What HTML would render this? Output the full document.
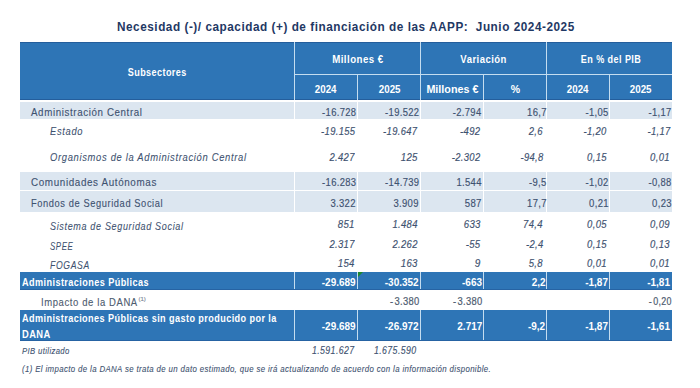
<!DOCTYPE html>
<html><head><meta charset="utf-8"><style>
html,body{margin:0;padding:0;background:#FFFFFF;width:700px;height:388px;overflow:hidden;position:relative;font-family:"Liberation Sans",sans-serif;}
</style></head><body>
<div style="position:absolute;left:117.3px;top:19.76px;font-size:13.4px;line-height:13.4px;font-weight:bold;font-style:normal;color:#1F3864;white-space:nowrap;letter-spacing:0.6px;transform:scaleX(0.8793);transform-origin:left center">Necesidad (-)/ capacidad (+) de financiación de las AAPP:&nbsp; Junio 2024-2025</div>
<div style="position:absolute;left:20px;top:42px;width:652px;height:58px;background:#2E75B6"></div>
<div style="position:absolute;left:20px;top:42px;width:652px;height:1px;background:#245E9C"></div>
<div style="position:absolute;left:20px;top:99px;width:652px;height:1px;background:#245E9C"></div>
<div style="position:absolute;left:294px;top:42px;width:1px;height:58px;background:#C4DDF0"></div>
<div style="position:absolute;left:420px;top:42px;width:1px;height:58px;background:#C4DDF0"></div>
<div style="position:absolute;left:546px;top:42px;width:1px;height:58px;background:#C4DDF0"></div>
<div style="position:absolute;left:294px;top:74px;width:378px;height:1px;background:#C4DDF0"></div>
<div style="position:absolute;left:357px;top:74px;width:1px;height:26px;background:#C4DDF0"></div>
<div style="position:absolute;left:483px;top:74px;width:1px;height:26px;background:#C4DDF0"></div>
<div style="position:absolute;left:609px;top:74px;width:1px;height:26px;background:#C4DDF0"></div>
<div style="position:absolute;left:123.04px;width:68.53px;top:66.81px;font-size:10.5px;line-height:10.5px;font-weight:bold;font-style:normal;color:#FFFFFF;white-space:nowrap;letter-spacing:0.5px;transform:scaleX(0.8614);transform-origin:34.01px center">Subsectores</div>
<div style="position:absolute;left:330.42px;width:55.76px;top:54.31px;font-size:10.5px;line-height:10.5px;font-weight:bold;font-style:normal;color:#FFFFFF;white-space:nowrap;letter-spacing:0.5px;transform:scaleX(0.9229);transform-origin:27.63px center">Millones €</div>
<div style="position:absolute;left:457.70px;width:51.19px;top:54.31px;font-size:10.5px;line-height:10.5px;font-weight:bold;font-style:normal;color:#FFFFFF;white-space:nowrap;letter-spacing:0.5px;transform:scaleX(0.9075);transform-origin:25.35px center">Variación</div>
<div style="position:absolute;left:575.81px;width:70.18px;top:54.31px;font-size:10.5px;line-height:10.5px;font-weight:bold;font-style:normal;color:#FFFFFF;white-space:nowrap;letter-spacing:0.5px;transform:scaleX(0.8611);transform-origin:34.84px center">En % del PIB</div>
<div style="position:absolute;left:314.32px;width:23.36px;top:84.11px;font-size:10.5px;line-height:10.5px;font-weight:bold;font-style:normal;color:#FFFFFF;white-space:nowrap;transform:scaleX(0.9290);transform-origin:11.68px center">2024</div>
<div style="position:absolute;left:377.82px;width:23.36px;top:84.11px;font-size:10.5px;line-height:10.5px;font-weight:bold;font-style:normal;color:#FFFFFF;white-space:nowrap;transform:scaleX(0.9290);transform-origin:11.68px center">2025</div>
<div style="position:absolute;left:427.12px;width:50.76px;top:84.11px;font-size:10.5px;line-height:10.5px;font-weight:bold;font-style:normal;color:#FFFFFF;white-space:nowrap;transform:scaleX(1.0244);transform-origin:25.38px center">Millones €</div>
<div style="position:absolute;left:510.83px;width:9.34px;top:84.11px;font-size:10.5px;line-height:10.5px;font-weight:bold;font-style:normal;color:#FFFFFF;white-space:nowrap;transform-origin:4.67px center">%</div>
<div style="position:absolute;left:566.32px;width:23.36px;top:84.11px;font-size:10.5px;line-height:10.5px;font-weight:bold;font-style:normal;color:#FFFFFF;white-space:nowrap;transform:scaleX(0.9290);transform-origin:11.68px center">2024</div>
<div style="position:absolute;left:628.82px;width:23.36px;top:84.11px;font-size:10.5px;line-height:10.5px;font-weight:bold;font-style:normal;color:#FFFFFF;white-space:nowrap;transform:scaleX(0.9290);transform-origin:11.68px center">2025</div>
<div style="position:absolute;left:20px;top:102px;width:652px;height:17px;background:#DCE6F0"></div>
<div style="position:absolute;left:294px;top:102px;width:1px;height:17px;background:#FFFFFF"></div>
<div style="position:absolute;left:357px;top:102px;width:1px;height:17px;background:#FFFFFF"></div>
<div style="position:absolute;left:420px;top:102px;width:1px;height:17px;background:#FFFFFF"></div>
<div style="position:absolute;left:483px;top:102px;width:1px;height:17px;background:#FFFFFF"></div>
<div style="position:absolute;left:546px;top:102px;width:1px;height:17px;background:#FFFFFF"></div>
<div style="position:absolute;left:609px;top:102px;width:1px;height:17px;background:#FFFFFF"></div>
<div style="position:absolute;left:31px;top:106.69px;font-size:11px;line-height:11px;font-weight:normal;font-style:normal;color:#3E5270;white-space:nowrap;letter-spacing:0.7px;-webkit-text-stroke:0.12px #3E5270;transform:scaleX(0.8855);transform-origin:left center">Administración Central</div>
<div style="position:absolute;right:343.87px;top:107.83px;font-size:10px;line-height:10px;font-weight:normal;font-style:normal;color:#3E5270;white-space:nowrap;letter-spacing:0.35px;-webkit-text-stroke:0.15px #3E5270;transform:scaleX(0.9417);transform-origin:right center">-16.728</div>
<div style="position:absolute;right:280.77px;top:107.83px;font-size:10px;line-height:10px;font-weight:normal;font-style:normal;color:#3E5270;white-space:nowrap;letter-spacing:0.35px;-webkit-text-stroke:0.15px #3E5270;transform:scaleX(0.9417);transform-origin:right center">-19.522</div>
<div style="position:absolute;right:218.27px;top:107.83px;font-size:10px;line-height:10px;font-weight:normal;font-style:normal;color:#3E5270;white-space:nowrap;letter-spacing:0.35px;-webkit-text-stroke:0.15px #3E5270;transform:scaleX(0.9419);transform-origin:right center">-2.794</div>
<div style="position:absolute;right:153.57px;top:107.83px;font-size:10px;line-height:10px;font-weight:normal;font-style:normal;color:#3E5270;white-space:nowrap;letter-spacing:0.35px;-webkit-text-stroke:0.15px #3E5270;transform:scaleX(0.9488);transform-origin:right center">16,7</div>
<div style="position:absolute;right:91.07px;top:107.83px;font-size:10px;line-height:10px;font-weight:normal;font-style:normal;color:#3E5270;white-space:nowrap;letter-spacing:0.35px;-webkit-text-stroke:0.15px #3E5270;transform:scaleX(0.9421);transform-origin:right center">-1,05</div>
<div style="position:absolute;right:28.57px;top:107.83px;font-size:10px;line-height:10px;font-weight:normal;font-style:normal;color:#3E5270;white-space:nowrap;letter-spacing:0.35px;-webkit-text-stroke:0.15px #3E5270;transform:scaleX(0.9421);transform-origin:right center">-1,17</div>
<div style="position:absolute;left:50px;top:126.09px;font-size:11px;line-height:11px;font-weight:normal;font-style:italic;color:#3E5270;white-space:nowrap;letter-spacing:0.8px;-webkit-text-stroke:0.08px #3E5270;transform:scaleX(0.8497);transform-origin:left center">Estado</div>
<div style="position:absolute;right:345.07px;top:126.83px;font-size:10px;line-height:10px;font-weight:normal;font-style:italic;color:#3E5270;white-space:nowrap;letter-spacing:0.35px;-webkit-text-stroke:0.15px #3E5270;transform:scaleX(0.9417);transform-origin:right center">-19.155</div>
<div style="position:absolute;right:282.37px;top:126.83px;font-size:10px;line-height:10px;font-weight:normal;font-style:italic;color:#3E5270;white-space:nowrap;letter-spacing:0.35px;-webkit-text-stroke:0.15px #3E5270;transform:scaleX(0.9417);transform-origin:right center">-19.647</div>
<div style="position:absolute;right:219.47px;top:126.83px;font-size:10px;line-height:10px;font-weight:normal;font-style:italic;color:#3E5270;white-space:nowrap;letter-spacing:0.35px;-webkit-text-stroke:0.15px #3E5270;transform:scaleX(0.9502);transform-origin:right center">-492</div>
<div style="position:absolute;right:156.67px;top:126.83px;font-size:10px;line-height:10px;font-weight:normal;font-style:italic;color:#3E5270;white-space:nowrap;letter-spacing:0.35px;-webkit-text-stroke:0.15px #3E5270;transform:scaleX(0.9521);transform-origin:right center">2,6</div>
<div style="position:absolute;right:93.27px;top:126.83px;font-size:10px;line-height:10px;font-weight:normal;font-style:italic;color:#3E5270;white-space:nowrap;letter-spacing:0.35px;-webkit-text-stroke:0.15px #3E5270;transform:scaleX(0.9421);transform-origin:right center">-1,20</div>
<div style="position:absolute;right:29.77px;top:126.83px;font-size:10px;line-height:10px;font-weight:normal;font-style:italic;color:#3E5270;white-space:nowrap;letter-spacing:0.35px;-webkit-text-stroke:0.15px #3E5270;transform:scaleX(0.9421);transform-origin:right center">-1,17</div>
<div style="position:absolute;left:50px;top:151.99px;font-size:11px;line-height:11px;font-weight:normal;font-style:italic;color:#3E5270;white-space:nowrap;letter-spacing:0.8px;-webkit-text-stroke:0.08px #3E5270;transform:scaleX(0.8525);transform-origin:left center">Organismos de la Administración Central</div>
<div style="position:absolute;right:345.07px;top:153.33px;font-size:10px;line-height:10px;font-weight:normal;font-style:italic;color:#3E5270;white-space:nowrap;letter-spacing:0.35px;-webkit-text-stroke:0.15px #3E5270;transform:scaleX(0.9470);transform-origin:right center">2.427</div>
<div style="position:absolute;right:282.36px;top:153.33px;font-size:10px;line-height:10px;font-weight:normal;font-style:italic;color:#3E5270;white-space:nowrap;letter-spacing:0.35px;-webkit-text-stroke:0.15px #3E5270;transform:scaleX(0.9597);transform-origin:right center">125</div>
<div style="position:absolute;right:219.47px;top:153.33px;font-size:10px;line-height:10px;font-weight:normal;font-style:italic;color:#3E5270;white-space:nowrap;letter-spacing:0.35px;-webkit-text-stroke:0.15px #3E5270;transform:scaleX(0.9419);transform-origin:right center">-2.302</div>
<div style="position:absolute;right:156.67px;top:153.33px;font-size:10px;line-height:10px;font-weight:normal;font-style:italic;color:#3E5270;white-space:nowrap;letter-spacing:0.35px;-webkit-text-stroke:0.15px #3E5270;transform:scaleX(0.9421);transform-origin:right center">-94,8</div>
<div style="position:absolute;right:93.27px;top:153.33px;font-size:10px;line-height:10px;font-weight:normal;font-style:italic;color:#3E5270;white-space:nowrap;letter-spacing:0.35px;-webkit-text-stroke:0.15px #3E5270;transform:scaleX(0.9488);transform-origin:right center">0,15</div>
<div style="position:absolute;right:29.77px;top:153.33px;font-size:10px;line-height:10px;font-weight:normal;font-style:italic;color:#3E5270;white-space:nowrap;letter-spacing:0.35px;-webkit-text-stroke:0.15px #3E5270;transform:scaleX(0.9488);transform-origin:right center">0,01</div>
<div style="position:absolute;left:20px;top:172px;width:652px;height:18px;background:#DCE6F0"></div>
<div style="position:absolute;left:294px;top:172px;width:1px;height:18px;background:#FFFFFF"></div>
<div style="position:absolute;left:357px;top:172px;width:1px;height:18px;background:#FFFFFF"></div>
<div style="position:absolute;left:420px;top:172px;width:1px;height:18px;background:#FFFFFF"></div>
<div style="position:absolute;left:483px;top:172px;width:1px;height:18px;background:#FFFFFF"></div>
<div style="position:absolute;left:546px;top:172px;width:1px;height:18px;background:#FFFFFF"></div>
<div style="position:absolute;left:609px;top:172px;width:1px;height:18px;background:#FFFFFF"></div>
<div style="position:absolute;left:31px;top:176.69px;font-size:11px;line-height:11px;font-weight:normal;font-style:normal;color:#3E5270;white-space:nowrap;letter-spacing:0.7px;-webkit-text-stroke:0.12px #3E5270;transform:scaleX(0.8952);transform-origin:left center">Comunidades Autónomas</div>
<div style="position:absolute;right:343.87px;top:178.24px;font-size:10px;line-height:10px;font-weight:normal;font-style:normal;color:#3E5270;white-space:nowrap;letter-spacing:0.35px;-webkit-text-stroke:0.15px #3E5270;transform:scaleX(0.9417);transform-origin:right center">-16.283</div>
<div style="position:absolute;right:280.77px;top:178.24px;font-size:10px;line-height:10px;font-weight:normal;font-style:normal;color:#3E5270;white-space:nowrap;letter-spacing:0.35px;-webkit-text-stroke:0.15px #3E5270;transform:scaleX(0.9417);transform-origin:right center">-14.739</div>
<div style="position:absolute;right:218.27px;top:178.24px;font-size:10px;line-height:10px;font-weight:normal;font-style:normal;color:#3E5270;white-space:nowrap;letter-spacing:0.35px;-webkit-text-stroke:0.15px #3E5270;transform:scaleX(0.9470);transform-origin:right center">1.544</div>
<div style="position:absolute;right:153.57px;top:178.24px;font-size:10px;line-height:10px;font-weight:normal;font-style:normal;color:#3E5270;white-space:nowrap;letter-spacing:0.35px;-webkit-text-stroke:0.15px #3E5270;transform:scaleX(0.9426);transform-origin:right center">-9,5</div>
<div style="position:absolute;right:91.07px;top:178.24px;font-size:10px;line-height:10px;font-weight:normal;font-style:normal;color:#3E5270;white-space:nowrap;letter-spacing:0.35px;-webkit-text-stroke:0.15px #3E5270;transform:scaleX(0.9421);transform-origin:right center">-1,02</div>
<div style="position:absolute;right:28.57px;top:178.24px;font-size:10px;line-height:10px;font-weight:normal;font-style:normal;color:#3E5270;white-space:nowrap;letter-spacing:0.35px;-webkit-text-stroke:0.15px #3E5270;transform:scaleX(0.9421);transform-origin:right center">-0,88</div>
<div style="position:absolute;left:20px;top:191px;width:652px;height:21px;background:#DCE6F0"></div>
<div style="position:absolute;left:294px;top:191px;width:1px;height:21px;background:#FFFFFF"></div>
<div style="position:absolute;left:357px;top:191px;width:1px;height:21px;background:#FFFFFF"></div>
<div style="position:absolute;left:420px;top:191px;width:1px;height:21px;background:#FFFFFF"></div>
<div style="position:absolute;left:483px;top:191px;width:1px;height:21px;background:#FFFFFF"></div>
<div style="position:absolute;left:546px;top:191px;width:1px;height:21px;background:#FFFFFF"></div>
<div style="position:absolute;left:609px;top:191px;width:1px;height:21px;background:#FFFFFF"></div>
<div style="position:absolute;left:31px;top:197.99px;font-size:11px;line-height:11px;font-weight:normal;font-style:normal;color:#3E5270;white-space:nowrap;letter-spacing:0.7px;-webkit-text-stroke:0.12px #3E5270;transform:scaleX(0.8452);transform-origin:left center">Fondos de Seguridad Social</div>
<div style="position:absolute;right:343.87px;top:198.84px;font-size:10px;line-height:10px;font-weight:normal;font-style:normal;color:#3E5270;white-space:nowrap;letter-spacing:0.35px;-webkit-text-stroke:0.15px #3E5270;transform:scaleX(0.9470);transform-origin:right center">3.322</div>
<div style="position:absolute;right:280.77px;top:198.84px;font-size:10px;line-height:10px;font-weight:normal;font-style:normal;color:#3E5270;white-space:nowrap;letter-spacing:0.35px;-webkit-text-stroke:0.15px #3E5270;transform:scaleX(0.9470);transform-origin:right center">3.909</div>
<div style="position:absolute;right:218.26px;top:198.84px;font-size:10px;line-height:10px;font-weight:normal;font-style:normal;color:#3E5270;white-space:nowrap;letter-spacing:0.35px;-webkit-text-stroke:0.15px #3E5270;transform:scaleX(0.9597);transform-origin:right center">587</div>
<div style="position:absolute;right:153.57px;top:198.84px;font-size:10px;line-height:10px;font-weight:normal;font-style:normal;color:#3E5270;white-space:nowrap;letter-spacing:0.35px;-webkit-text-stroke:0.15px #3E5270;transform:scaleX(0.9488);transform-origin:right center">17,7</div>
<div style="position:absolute;right:91.07px;top:198.84px;font-size:10px;line-height:10px;font-weight:normal;font-style:normal;color:#3E5270;white-space:nowrap;letter-spacing:0.35px;-webkit-text-stroke:0.15px #3E5270;transform:scaleX(0.9488);transform-origin:right center">0,21</div>
<div style="position:absolute;right:28.57px;top:198.84px;font-size:10px;line-height:10px;font-weight:normal;font-style:normal;color:#3E5270;white-space:nowrap;letter-spacing:0.35px;-webkit-text-stroke:0.15px #3E5270;transform:scaleX(0.9488);transform-origin:right center">0,23</div>
<div style="position:absolute;left:50px;top:221.09px;font-size:11px;line-height:11px;font-weight:normal;font-style:italic;color:#3E5270;white-space:nowrap;letter-spacing:0.8px;-webkit-text-stroke:0.08px #3E5270;transform:scaleX(0.8207);transform-origin:left center">Sistema de Seguridad Social</div>
<div style="position:absolute;right:345.06px;top:220.13px;font-size:10px;line-height:10px;font-weight:normal;font-style:italic;color:#3E5270;white-space:nowrap;letter-spacing:0.35px;-webkit-text-stroke:0.15px #3E5270;transform:scaleX(0.9597);transform-origin:right center">851</div>
<div style="position:absolute;right:282.37px;top:220.13px;font-size:10px;line-height:10px;font-weight:normal;font-style:italic;color:#3E5270;white-space:nowrap;letter-spacing:0.35px;-webkit-text-stroke:0.15px #3E5270;transform:scaleX(0.9470);transform-origin:right center">1.484</div>
<div style="position:absolute;right:219.46px;top:220.13px;font-size:10px;line-height:10px;font-weight:normal;font-style:italic;color:#3E5270;white-space:nowrap;letter-spacing:0.35px;-webkit-text-stroke:0.15px #3E5270;transform:scaleX(0.9597);transform-origin:right center">633</div>
<div style="position:absolute;right:156.67px;top:220.13px;font-size:10px;line-height:10px;font-weight:normal;font-style:italic;color:#3E5270;white-space:nowrap;letter-spacing:0.35px;-webkit-text-stroke:0.15px #3E5270;transform:scaleX(0.9488);transform-origin:right center">74,4</div>
<div style="position:absolute;right:93.27px;top:220.13px;font-size:10px;line-height:10px;font-weight:normal;font-style:italic;color:#3E5270;white-space:nowrap;letter-spacing:0.35px;-webkit-text-stroke:0.15px #3E5270;transform:scaleX(0.9488);transform-origin:right center">0,05</div>
<div style="position:absolute;right:29.77px;top:220.13px;font-size:10px;line-height:10px;font-weight:normal;font-style:italic;color:#3E5270;white-space:nowrap;letter-spacing:0.35px;-webkit-text-stroke:0.15px #3E5270;transform:scaleX(0.9488);transform-origin:right center">0,09</div>
<div style="position:absolute;left:50px;top:241.19px;font-size:11px;line-height:11px;font-weight:normal;font-style:italic;color:#3E5270;white-space:nowrap;letter-spacing:0.8px;-webkit-text-stroke:0.08px #3E5270;transform:scaleX(0.7150);transform-origin:left center">SPEE</div>
<div style="position:absolute;right:345.07px;top:239.63px;font-size:10px;line-height:10px;font-weight:normal;font-style:italic;color:#3E5270;white-space:nowrap;letter-spacing:0.35px;-webkit-text-stroke:0.15px #3E5270;transform:scaleX(0.9470);transform-origin:right center">2.317</div>
<div style="position:absolute;right:282.37px;top:239.63px;font-size:10px;line-height:10px;font-weight:normal;font-style:italic;color:#3E5270;white-space:nowrap;letter-spacing:0.35px;-webkit-text-stroke:0.15px #3E5270;transform:scaleX(0.9470);transform-origin:right center">2.262</div>
<div style="position:absolute;right:219.47px;top:239.63px;font-size:10px;line-height:10px;font-weight:normal;font-style:italic;color:#3E5270;white-space:nowrap;letter-spacing:0.35px;-webkit-text-stroke:0.15px #3E5270;transform:scaleX(0.9538);transform-origin:right center">-55</div>
<div style="position:absolute;right:156.67px;top:239.63px;font-size:10px;line-height:10px;font-weight:normal;font-style:italic;color:#3E5270;white-space:nowrap;letter-spacing:0.35px;-webkit-text-stroke:0.15px #3E5270;transform:scaleX(0.9426);transform-origin:right center">-2,4</div>
<div style="position:absolute;right:93.27px;top:239.63px;font-size:10px;line-height:10px;font-weight:normal;font-style:italic;color:#3E5270;white-space:nowrap;letter-spacing:0.35px;-webkit-text-stroke:0.15px #3E5270;transform:scaleX(0.9488);transform-origin:right center">0,15</div>
<div style="position:absolute;right:29.77px;top:239.63px;font-size:10px;line-height:10px;font-weight:normal;font-style:italic;color:#3E5270;white-space:nowrap;letter-spacing:0.35px;-webkit-text-stroke:0.15px #3E5270;transform:scaleX(0.9488);transform-origin:right center">0,13</div>
<div style="position:absolute;left:50px;top:260.49px;font-size:11px;line-height:11px;font-weight:normal;font-style:italic;color:#3E5270;white-space:nowrap;letter-spacing:0.8px;-webkit-text-stroke:0.08px #3E5270;transform:scaleX(0.7865);transform-origin:left center">FOGASA</div>
<div style="position:absolute;right:345.06px;top:259.13px;font-size:10px;line-height:10px;font-weight:normal;font-style:italic;color:#3E5270;white-space:nowrap;letter-spacing:0.35px;-webkit-text-stroke:0.15px #3E5270;transform:scaleX(0.9597);transform-origin:right center">154</div>
<div style="position:absolute;right:282.36px;top:259.13px;font-size:10px;line-height:10px;font-weight:normal;font-style:italic;color:#3E5270;white-space:nowrap;letter-spacing:0.35px;-webkit-text-stroke:0.15px #3E5270;transform:scaleX(0.9597);transform-origin:right center">163</div>
<div style="position:absolute;right:219.45px;top:259.13px;font-size:10px;line-height:10px;font-weight:normal;font-style:italic;color:#3E5270;white-space:nowrap;letter-spacing:0.35px;-webkit-text-stroke:0.15px #3E5270;transform-origin:right center">9</div>
<div style="position:absolute;right:156.67px;top:259.13px;font-size:10px;line-height:10px;font-weight:normal;font-style:italic;color:#3E5270;white-space:nowrap;letter-spacing:0.35px;-webkit-text-stroke:0.15px #3E5270;transform:scaleX(0.9521);transform-origin:right center">5,8</div>
<div style="position:absolute;right:93.27px;top:259.13px;font-size:10px;line-height:10px;font-weight:normal;font-style:italic;color:#3E5270;white-space:nowrap;letter-spacing:0.35px;-webkit-text-stroke:0.15px #3E5270;transform:scaleX(0.9488);transform-origin:right center">0,01</div>
<div style="position:absolute;right:29.77px;top:259.13px;font-size:10px;line-height:10px;font-weight:normal;font-style:italic;color:#3E5270;white-space:nowrap;letter-spacing:0.35px;-webkit-text-stroke:0.15px #3E5270;transform:scaleX(0.9488);transform-origin:right center">0,01</div>
<div style="position:absolute;left:20px;top:272px;width:652px;height:18px;background:#2E75B6"></div>
<div style="position:absolute;left:294px;top:272px;width:1px;height:18px;background:#C4DDF0"></div>
<div style="position:absolute;left:357px;top:272px;width:1px;height:18px;background:#C4DDF0"></div>
<div style="position:absolute;left:420px;top:272px;width:1px;height:18px;background:#C4DDF0"></div>
<div style="position:absolute;left:483px;top:272px;width:1px;height:18px;background:#C4DDF0"></div>
<div style="position:absolute;left:546px;top:272px;width:1px;height:18px;background:#C4DDF0"></div>
<div style="position:absolute;left:609px;top:272px;width:1px;height:18px;background:#C4DDF0"></div>
<div style="position:absolute;left:20px;top:289px;width:652px;height:1px;background:#2663A3"></div>
<div style="position:absolute;left:22px;top:276.86px;font-size:10.8px;line-height:10.8px;font-weight:bold;font-style:normal;color:#FFFFFF;white-space:nowrap;letter-spacing:0.5px;transform:scaleX(0.8438);transform-origin:left center">Administraciones Públicas</div>
<div style="position:absolute;right:344.70px;top:276.91px;font-size:10.5px;line-height:10.5px;font-weight:bold;font-style:normal;color:#FFFFFF;white-space:nowrap;transform:scaleX(0.9500);transform-origin:right center">-29.689</div>
<div style="position:absolute;right:281.10px;top:276.91px;font-size:10.5px;line-height:10.5px;font-weight:bold;font-style:normal;color:#FFFFFF;white-space:nowrap;transform:scaleX(0.9500);transform-origin:right center">-30.352</div>
<div style="position:absolute;right:218.00px;top:276.91px;font-size:10.5px;line-height:10.5px;font-weight:bold;font-style:normal;color:#FFFFFF;white-space:nowrap;transform:scaleX(0.9500);transform-origin:right center">-663</div>
<div style="position:absolute;right:154.70px;top:276.91px;font-size:10.5px;line-height:10.5px;font-weight:bold;font-style:normal;color:#FFFFFF;white-space:nowrap;transform:scaleX(0.9500);transform-origin:right center">2,2</div>
<div style="position:absolute;right:92.20px;top:276.91px;font-size:10.5px;line-height:10.5px;font-weight:bold;font-style:normal;color:#FFFFFF;white-space:nowrap;transform:scaleX(0.9500);transform-origin:right center">-1,87</div>
<div style="position:absolute;right:29.70px;top:276.91px;font-size:10.5px;line-height:10.5px;font-weight:bold;font-style:normal;color:#FFFFFF;white-space:nowrap;transform:scaleX(0.9500);transform-origin:right center">-1,81</div>
<div style="position:absolute;left:40.8px;top:297.49px;font-size:11px;line-height:11px;font-weight:normal;font-style:normal;color:#4E5C70;white-space:nowrap;letter-spacing:0.7px;-webkit-text-stroke:0.12px #4E5C70;transform:scaleX(0.8623);transform-origin:left center">Impacto de la DANA</div>
<div style="position:absolute;left:138.5px;top:295.92px;font-size:6px;line-height:6px;font-weight:normal;font-style:normal;color:#7A8596;white-space:nowrap;-webkit-text-stroke:0.12px #7A8596;transform-origin:left center">(1)</div>
<div style="position:absolute;right:280.67px;top:297.14px;font-size:10px;line-height:10px;font-weight:normal;font-style:normal;color:#4E5C70;white-space:nowrap;letter-spacing:0.35px;-webkit-text-stroke:0.2px #4E5C70;transform:scaleX(0.9364);transform-origin:right center">-&#8202;3.380</div>
<div style="position:absolute;right:217.57px;top:297.14px;font-size:10px;line-height:10px;font-weight:normal;font-style:normal;color:#4E5C70;white-space:nowrap;letter-spacing:0.35px;-webkit-text-stroke:0.2px #4E5C70;transform:scaleX(0.9364);transform-origin:right center">-&#8202;3.380</div>
<div style="position:absolute;right:28.69px;top:297.14px;font-size:10px;line-height:10px;font-weight:normal;font-style:normal;color:#4E5C70;white-space:nowrap;letter-spacing:0.35px;-webkit-text-stroke:0.2px #4E5C70;transform:scaleX(0.8905);transform-origin:right center">-&#8202;0,20</div>
<div style="position:absolute;left:20px;top:310px;width:652px;height:31px;background:#2E75B6"></div>
<div style="position:absolute;left:294px;top:310px;width:1px;height:30px;background:#C4DDF0"></div>
<div style="position:absolute;left:357px;top:310px;width:1px;height:30px;background:#C4DDF0"></div>
<div style="position:absolute;left:420px;top:310px;width:1px;height:30px;background:#C4DDF0"></div>
<div style="position:absolute;left:483px;top:310px;width:1px;height:30px;background:#C4DDF0"></div>
<div style="position:absolute;left:546px;top:310px;width:1px;height:30px;background:#C4DDF0"></div>
<div style="position:absolute;left:609px;top:310px;width:1px;height:30px;background:#C4DDF0"></div>
<div style="position:absolute;left:20px;top:340px;width:652px;height:1px;background:#2663A3"></div>
<div style="position:absolute;left:22px;top:312.86px;font-size:10.8px;line-height:10.8px;font-weight:bold;font-style:normal;color:#FFFFFF;white-space:nowrap;letter-spacing:0.5px;transform:scaleX(0.8420);transform-origin:left center">Administraciones Públicas sin gasto producido por la</div>
<div style="position:absolute;left:22px;top:328.86px;font-size:10.8px;line-height:10.8px;font-weight:bold;font-style:normal;color:#FFFFFF;white-space:nowrap;letter-spacing:0.5px;transform:scaleX(0.8655);transform-origin:left center">DANA</div>
<div style="position:absolute;right:344.70px;top:321.11px;font-size:10.5px;line-height:10.5px;font-weight:bold;font-style:normal;color:#FFFFFF;white-space:nowrap;transform:scaleX(0.9500);transform-origin:right center">-29.689</div>
<div style="position:absolute;right:281.10px;top:321.11px;font-size:10.5px;line-height:10.5px;font-weight:bold;font-style:normal;color:#FFFFFF;white-space:nowrap;transform:scaleX(0.9500);transform-origin:right center">-26.972</div>
<div style="position:absolute;right:218.00px;top:321.11px;font-size:10.5px;line-height:10.5px;font-weight:bold;font-style:normal;color:#FFFFFF;white-space:nowrap;transform:scaleX(0.9500);transform-origin:right center">2.717</div>
<div style="position:absolute;right:154.70px;top:321.11px;font-size:10.5px;line-height:10.5px;font-weight:bold;font-style:normal;color:#FFFFFF;white-space:nowrap;transform:scaleX(0.9500);transform-origin:right center">-9,2</div>
<div style="position:absolute;right:92.20px;top:321.11px;font-size:10.5px;line-height:10.5px;font-weight:bold;font-style:normal;color:#FFFFFF;white-space:nowrap;transform:scaleX(0.9500);transform-origin:right center">-1,87</div>
<div style="position:absolute;right:29.70px;top:321.11px;font-size:10.5px;line-height:10.5px;font-weight:bold;font-style:normal;color:#FFFFFF;white-space:nowrap;transform:scaleX(0.9500);transform-origin:right center">-1,61</div>
<div style="position:absolute;left:358px;top:272px;width:0;height:0;border-top:5px solid #1E8A2E;border-right:5px solid transparent"></div>
<div style="position:absolute;left:22.2px;top:346.50px;font-size:8.5px;line-height:8.5px;font-weight:normal;font-style:italic;color:#3E5270;white-space:nowrap;letter-spacing:0.4px;-webkit-text-stroke:0.1px #3E5270;transform:scaleX(0.9088);transform-origin:left center">PIB utilizado</div>
<div style="position:absolute;right:345.81px;top:345.74px;font-size:10px;line-height:10px;font-weight:normal;font-style:italic;color:#3E5270;white-space:nowrap;letter-spacing:0.45px;-webkit-text-stroke:0.12px #3E5270;transform:scaleX(0.8776);transform-origin:right center">1.591.627</div>
<div style="position:absolute;right:283.01px;top:345.74px;font-size:10px;line-height:10px;font-weight:normal;font-style:italic;color:#3E5270;white-space:nowrap;letter-spacing:0.45px;-webkit-text-stroke:0.12px #3E5270;transform:scaleX(0.8776);transform-origin:right center">1.675.590</div>
<div style="position:absolute;left:22.2px;top:365.32px;font-size:8.6px;line-height:8.6px;font-weight:normal;font-style:italic;color:#3E5270;white-space:nowrap;letter-spacing:0.4px;-webkit-text-stroke:0.1px #3E5270;transform:scaleX(0.9129);transform-origin:left center">(1) El impacto de la DANA se trata de un dato estimado, que se irá actualizando de acuerdo con la información disponible.</div>
</body></html>
